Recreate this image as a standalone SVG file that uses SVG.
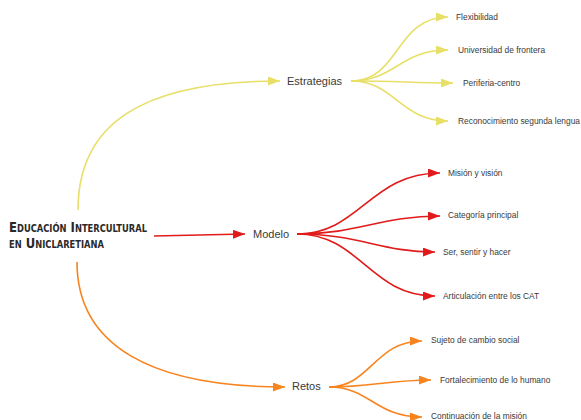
<svg xmlns="http://www.w3.org/2000/svg" width="581" height="420" viewBox="0 0 581 420">
<style>
.bg{fill:#ffffff}
.title{font-family:"DejaVu Sans Condensed","DejaVu Sans",sans-serif;font-weight:bold;font-variant:small-caps;font-size:14px;fill:#2a2a2a}
.mid{font-family:"Liberation Sans",Arial,sans-serif;font-size:11px;fill:#3a3a3a}
.leaf{font-family:"Liberation Sans",Arial,sans-serif;font-size:8.4px;fill:#3a3a3a}
.y{fill:none;stroke:#e8df66;stroke-width:1.6}
.r{fill:none;stroke:#e11b1b;stroke-width:1.6}
.o{fill:none;stroke:#f7841f;stroke-width:1.6}
</style>
<defs>
<marker id="ay" markerUnits="userSpaceOnUse" markerWidth="12" markerHeight="9" refX="12" refY="4.5" orient="auto"><path d="M0,0 L12,4.5 L0,9 z" fill="#e8df66"/></marker>
<marker id="ar" markerUnits="userSpaceOnUse" markerWidth="12" markerHeight="9" refX="12" refY="4.5" orient="auto"><path d="M0,0 L12,4.5 L0,9 z" fill="#e11b1b"/></marker>
<marker id="ao" markerUnits="userSpaceOnUse" markerWidth="12" markerHeight="9" refX="12" refY="4.5" orient="auto"><path d="M0,0 L12,4.5 L0,9 z" fill="#f7841f"/></marker>
</defs>
<rect class="bg" x="0" y="0" width="581" height="420"/>
<g id="connectors">
<path class="y" marker-end="url(#ay)" d="M78,210 C78,125 140,81 280,81"/>
<path class="r" marker-end="url(#ar)" d="M154,236 L245,234"/>
<path class="o" marker-end="url(#ao)" d="M77,262 C77,345 150,387 285,387"/>
<path class="y" marker-end="url(#ay)" d="M351,81 C400,81 395,17 448,17"/>
<path class="y" marker-end="url(#ay)" d="M351,81 C395,81 400,50 448,50"/>
<path class="y" marker-end="url(#ay)" d="M351,81 C400,81 410,83 453,83"/>
<path class="y" marker-end="url(#ay)" d="M351,81 C395,81 400,121 448,121"/>
<path class="r" marker-end="url(#ar)" d="M297,234 C360,234 370,173 440,173"/>
<path class="r" marker-end="url(#ar)" d="M297,234 C360,234 380,216 440,216"/>
<path class="r" marker-end="url(#ar)" d="M297,234 C360,234 380,252 435,252"/>
<path class="r" marker-end="url(#ar)" d="M297,234 C360,234 370,296 435,296"/>
<path class="o" marker-end="url(#ao)" d="M329,387 C370,387 375,341 422,341"/>
<path class="o" marker-end="url(#ao)" d="M329,387 C370,387 390,380 431,380"/>
<path class="o" marker-end="url(#ao)" d="M329,387 C370,387 375,417 422,417"/>
</g>
<g id="root"><text class="title" x="9" y="232" textLength="138" lengthAdjust="spacingAndGlyphs">Educación Intercultural</text><text class="title" x="9" y="248" textLength="95" lengthAdjust="spacingAndGlyphs">en Uniclaretiana</text></g>
<g id="estrategias"><text class="mid" x="287" y="85">Estrategias</text></g>
<g id="modelo"><text class="mid" x="253" y="238">Modelo</text></g>
<g id="retos"><text class="mid" x="292" y="390">Retos</text></g>
<g id="flexibilidad"><text class="leaf" x="456" y="20">Flexibilidad</text></g>
<g id="universidad"><text class="leaf" x="458" y="53">Universidad de frontera</text></g>
<g id="periferia"><text class="leaf" x="463" y="86">Periferia-centro</text></g>
<g id="reconocimiento"><text class="leaf" x="458" y="124">Reconocimiento segunda lengua</text></g>
<g id="mision"><text class="leaf" x="448" y="176">Misión y visión</text></g>
<g id="categoria"><text class="leaf" x="448" y="218">Categoría principal</text></g>
<g id="ser"><text class="leaf" x="443" y="255">Ser, sentir y hacer</text></g>
<g id="articulacion"><text class="leaf" x="443" y="299">Articulación entre los CAT</text></g>
<g id="sujeto"><text class="leaf" x="431" y="343">Sujeto de cambio social</text></g>
<g id="fortalecimiento"><text class="leaf" x="440" y="383">Fortalecimiento de lo humano</text></g>
<g id="continuacion"><text class="leaf" x="431" y="419">Continuación de la misión</text></g>
</svg>
